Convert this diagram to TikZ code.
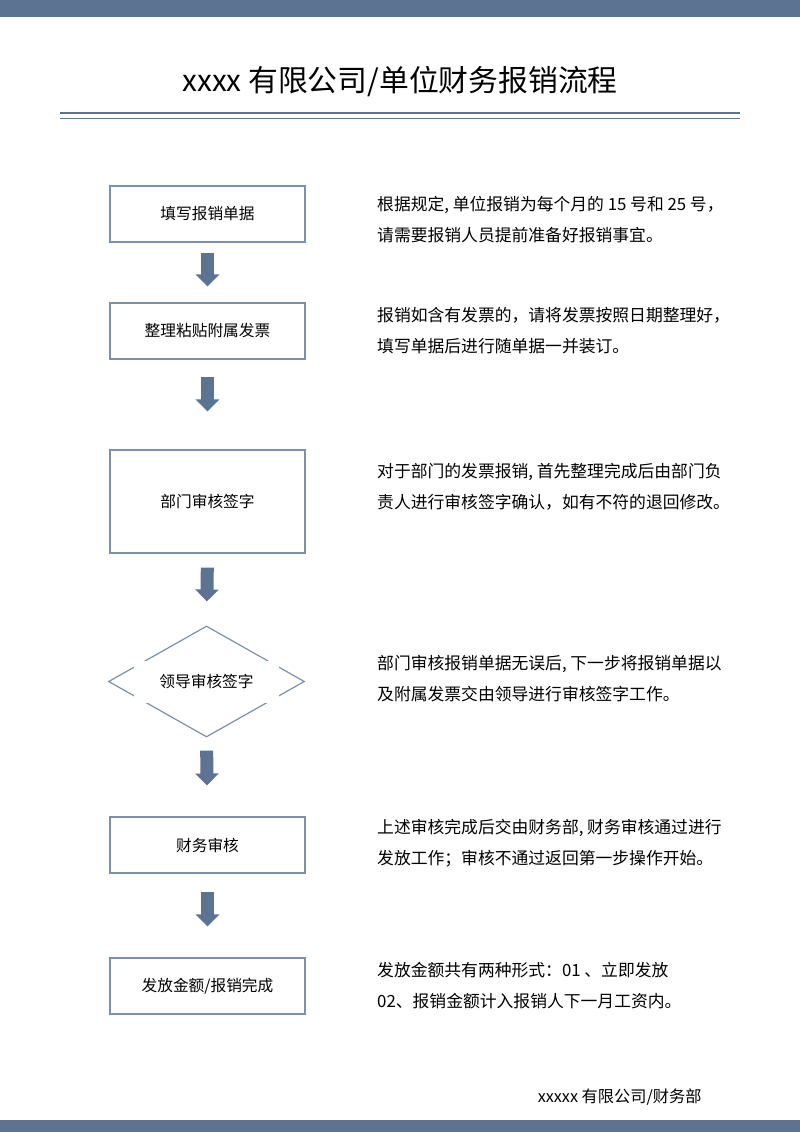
\documentclass[tikz,border=0pt]{standalone}
\usepackage{fontspec}
\setmainfont{Noto Sans CJK SC}
\usepackage{tikz}
\usetikzlibrary{
  arrows.meta,
  shapes.geometric
}
\definecolor{slateBlue}{RGB}{92,116,145}
\colorlet{pageBar}{slateBlue}
\colorlet{boxBorder}{slateBlue!80}
\colorlet{flowArrow}{slateBlue}
\tikzset{
  box font/.style={font=\fontsize{15.7}{15.7}\selectfont},
  flow box/.style={
    draw=boxBorder, line width=1.2pt,
    minimum width=195pt, minimum height=56pt, inner sep=0pt,
    box font
  },
  decision/.style={
    diamond, draw=boxBorder, line width=1.2pt,
    minimum width=196pt, minimum height=111pt, inner sep=0pt
  },
  decision label/.style={fill=white, minimum width=145pt, minimum height=42pt, box font}
}

\begin{document}
\begin{tikzpicture}[
  x=1pt, y=-1pt,
  flow arrow/.style 2 args={
    draw=flowArrow, line width=13pt,
    -{Triangle[width=23pt,length=12pt]},
    shorten <=#1pt, shorten >=#2pt
  },
  note/.style={anchor=base west, align=left, inner sep=0pt, font=\fontsize{16.8}{31}\selectfont}
]
\useasboundingbox (0,0) rectangle (800,1132);
\fill[pageBar] (0,0) rectangle (800,17);
\fill[pageBar] (0,1120) rectangle (800,1132);

\node[font=\fontsize{29.8}{29.8}\selectfont] (title) at (400,82) {xxxx 有限公司/单位财务报销流程};
\draw[pageBar, line width=2.8pt] (60,113) -- (740,113);
\draw[pageBar, line width=1.4pt] (60,118.5) -- (740,118.5);

\node[flow box] (b1) at (207.5,214) {填写报销单据};
\node[flow box] (b2) at (207.5,331) {整理粘贴附属发票};
\node[flow box, minimum height=103pt] (b3) at (207.5,501.5) {部门审核签字};
\node[decision, label={[decision label]center:领导审核签字}] (d4) at (206.5,681.5) {};
\node[flow box] (b5) at (207.5,845) {财务审核};
\node[flow box] (b6) at (207.5,986) {发放金额/报销完成};

\foreach \a/\b/\s/\e in {b1/b2/10/16, b2/b3/17/38, b3/d4/14/24, d4/b5/13/31, b5/b6/18/31}
  \draw[flow arrow={\s}{\e}] (\a.south) -- (\b.north);

\node[note] (n1) at (377,241) {根据规定, 单位报销为每个月的 15 号和 25 号，\\请需要报销人员提前准备好报销事宜。};
\node[note] (n2) at (377,352) {报销如含有发票的，请将发票按照日期整理好，\\填写单据后进行随单据一并装订。};
\node[note] (n3) at (377,508) {对于部门的发票报销, 首先整理完成后由部门负\\责人进行审核签字确认，如有不符的退回修改。};
\node[note] (n4) at (377,700) {部门审核报销单据无误后, 下一步将报销单据以\\及附属发票交由领导进行审核签字工作。};
\node[note] (n5) at (377,864) {上述审核完成后交由财务部, 财务审核通过进行\\发放工作；审核不通过返回第一步操作开始。};
\node[note] (n6) at (377,1007) {发放金额共有两种形式：01 、立即发放\\02、报销金额计入报销人下一月工资内。};

\node[anchor=east, font=\fontsize{16.2}{16.2}\selectfont] (footer) at (705,1097) {xxxxx 有限公司/财务部};
\end{tikzpicture}
\end{document}
